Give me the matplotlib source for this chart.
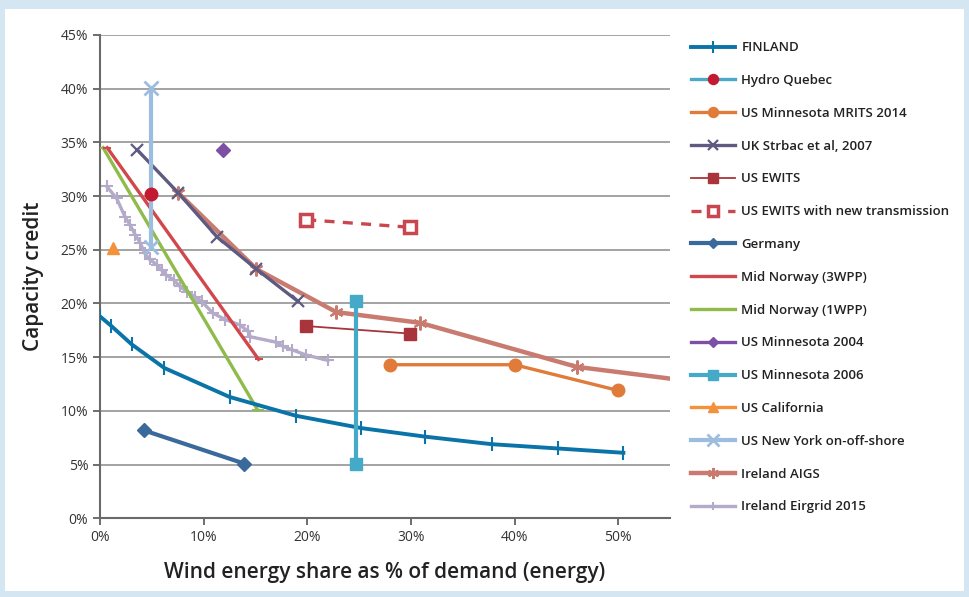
import matplotlib
matplotlib.use("Agg")
import matplotlib.pyplot as plt
from matplotlib.patches import Rectangle
import numpy as np

plt.rcParams['font.family'] = ['Open Sans', 'DejaVu Sans']

# data (x = wind share %, y = capacity credit %)
finland_x = [0, 1.1, 3.05, 6.2, 12.5, 18.9, 25.2, 31.4, 37.8, 44.2, 50.5]
finland_y = [18.8, 17.9, 16.2, 14.0, 11.3, 9.55, 8.4, 7.6, 6.9, 6.5, 6.1]

hydro_x = [4.9]
hydro_y = [30.2]

mrits_x = [28.0, 40.0, 50.0]
mrits_y = [14.3, 14.3, 11.9]

uk_x = [3.6, 7.55, 11.3, 15.1, 19.1]
uk_y = [34.3, 30.3, 26.2, 23.2, 20.2]

ewits_x = [19.9, 29.9]
ewits_y = [17.9, 17.2]

ewits_tr_x = [19.9, 29.9]
ewits_tr_y = [27.8, 27.1]

germany_x = [4.2, 13.9]
germany_y = [8.2, 5.1]

norway3_x = [0.7, 15.3]
norway3_y = [34.5, 14.8]

norway1_x = [0.3, 15.2]
norway1_y = [34.5, 10.1]

mn2004_x = [11.9]
mn2004_y = [34.3]

mn2006_x = [24.7, 24.7]
mn2006_y = [20.2, 5.05]

calif_x = [1.25]
calif_y = [25.2]

ny_x = [4.9, 4.9]
ny_y = [40.1, 25.3]

aigs_x = [7.55, 15.1, 22.8, 30.9, 46.0, 60.0]
aigs_y = [30.3, 23.2, 19.2, 18.2, 14.1, 12.4]

eirgrid_x = [0.65, 1.6, 2.4, 2.9, 3.4, 3.9, 4.3, 4.8, 5.5, 5.95, 6.4, 7.1, 7.7, 8.4,
             9.2, 9.8, 10.9, 12.1, 13.5, 14.3, 14.5, 17.0, 17.7, 18.5, 19.9, 22.0]
eirgrid_y = [30.9, 29.8, 28.1, 27.3, 26.4, 25.6, 24.7, 24.1, 23.6, 23.1, 22.65, 22.2, 21.6, 21.1,
             20.6, 20.2, 19.1, 18.5, 18.0, 17.4, 16.9, 16.4, 16.0, 15.7, 15.2, 14.7]

fig = plt.figure(figsize=(9.69, 5.97), dpi=100, facecolor='#d4e6f1')
fig.patches.append(Rectangle((5 / 969, 6 / 597), 959 / 969, 582 / 597,
                             transform=fig.transFigure, facecolor='white',
                             edgecolor='none', zorder=-1))
ax = fig.add_axes([100 / 969, 78.7 / 597, 570 / 969, 483.3 / 597])
ax.set_facecolor('white')

lw = 2.4
h = []
h += ax.plot(eirgrid_x, eirgrid_y, color='#b4aac9', lw=lw, marker='+', ms=8, mew=1.5,
             label='Ireland Eirgrid 2015', zorder=3)
h += ax.plot(aigs_x, aigs_y, color='#c97b70', lw=3.2, marker=(6, 2, 0), ms=10, mew=1.5,
             label='Ireland AIGS', zorder=3)
h += ax.plot(uk_x, uk_y, color='#5e5a80', lw=lw, marker='x', ms=9, mew=1.6,
             label='UK Strbac et al, 2007', zorder=4)
h += ax.plot(norway1_x, norway1_y, color='#8fbb4b', lw=lw, marker='_', ms=8, mew=1.5,
             label='Mid Norway (1WPP)', zorder=4)
h += ax.plot(norway3_x, norway3_y, color='#d1474b', lw=lw, marker='_', ms=6, mew=1.5,
             label='Mid Norway (3WPP)', zorder=4)
h += ax.plot(finland_x, finland_y, color='#0a73a8', lw=2.8, marker='|', ms=10, mew=1.5,
             label='FINLAND', zorder=5)
h += ax.plot(hydro_x, hydro_y, color='#4aaac7', lw=lw, marker='o', ms=9,
             mfc='#c21a30', mec='#c21a30', label='Hydro Quebec', zorder=5)
h += ax.plot(mrits_x, mrits_y, color='#e07b39', lw=lw, marker='o', ms=9,
             label='US Minnesota MRITS 2014', zorder=5)
h += ax.plot(ewits_x, ewits_y, color='#a8353b', lw=1.3, marker='s', ms=9,
             label='US EWITS', zorder=5)
h += ax.plot(ewits_tr_x, ewits_tr_y, color='#c9474f', lw=2.4, ls=(0, (3, 2.5)), marker='s', ms=9,
             mfc='white', mew=2.5, label='US EWITS with new transmission', zorder=5)
h += ax.plot(germany_x, germany_y, color='#3a6a9b', lw=3, marker='D', ms=7,
             label='Germany', zorder=5)
h += ax.plot(mn2004_x, mn2004_y, color='#7d50a6', lw=lw, marker='D', ms=7,
             label='US Minnesota 2004', zorder=5)
h += ax.plot(mn2006_x, mn2006_y, color='#45a9c8', lw=3, marker='s', ms=9,
             label='US Minnesota 2006', zorder=5)
h += ax.plot(calif_x, calif_y, color='#f3923b', lw=lw, marker='^', ms=9,
             label='US California', zorder=5)
h += ax.plot(ny_x, ny_y, color='#9dbde0', lw=3, marker='x', ms=10, mew=2,
             label='US New York on-off-shore', zorder=4)

order = ['FINLAND', 'Hydro Quebec', 'US Minnesota MRITS 2014', 'UK Strbac et al, 2007',
         'US EWITS', 'US EWITS with new transmission', 'Germany', 'Mid Norway (3WPP)',
         'Mid Norway (1WPP)', 'US Minnesota 2004', 'US Minnesota 2006', 'US California',
         'US New York on-off-shore', 'Ireland AIGS', 'Ireland Eirgrid 2015']
byname = {l.get_label(): l for l in h}
fig.legend([byname[n] for n in order], order, loc='upper left',
           bbox_to_anchor=(686 / 969, 1 - 36 / 597), frameon=False,
           handlelength=3.3, handletextpad=0.5, labelspacing=1.5, borderaxespad=0,
           markerscale=0.8, prop={'weight': 'semibold', 'size': 9.5}, labelcolor='#222222')

ax.set_xlim(0, 55)
ax.set_ylim(0, 45)
ax.set_xticks(np.arange(0, 51, 10))
ax.set_xticklabels([f'{v}%' for v in range(0, 51, 10)])
ax.set_yticks(np.arange(0, 46, 5))
ax.set_yticklabels([f'{v}%' for v in range(0, 46, 5)])
ax.yaxis.grid(True, color='#8a8a8a', lw=1.1)
ax.set_axisbelow(True)
for s in ['top', 'right']:
    ax.spines[s].set_visible(False)
for s in ['left', 'bottom']:
    ax.spines[s].set_color('#6a6a6a')
    ax.spines[s].set_linewidth(1.5)
ax.tick_params(colors='#555555', labelcolor='#333333', labelsize=10, length=5, width=1.2)

ax.set_xlabel('Wind energy share as % of demand (energy)', fontsize=15, fontweight='semibold',
              color='#222222', labelpad=12)
ax.set_ylabel('Capacity credit', fontsize=15, fontweight='semibold', color='#222222', labelpad=12)

fig.savefig('out.png', dpi=100, facecolor=fig.get_facecolor())
